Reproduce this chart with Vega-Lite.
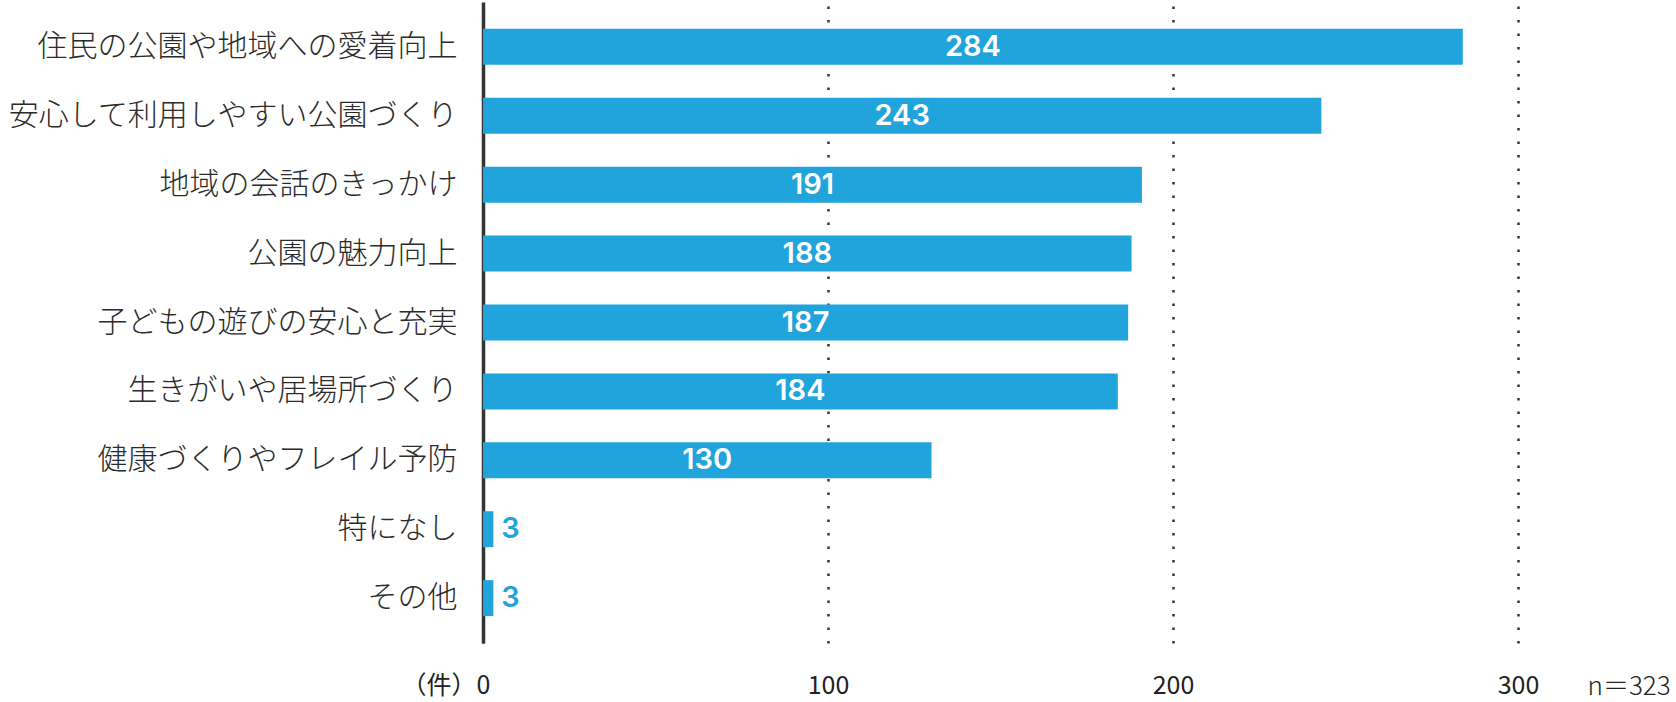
{
  "$schema": "https://vega.github.io/schema/vega-lite/v6.json",
  "autosize": {"type": "none"},
  "width": 1035,
  "height": 641,
  "padding": {"left": 483, "top": 2, "right": 158, "bottom": 59},
  "background": "white",
  "config": {"view": {"stroke": null}, "font": "Noto Sans CJK JP"},
  "data": {
    "values": [
      {"item": "住民の公園や地域への愛着向上", "count": 284},
      {"item": "安心して利用しやすい公園づくり", "count": 243},
      {"item": "地域の会話のきっかけ", "count": 191},
      {"item": "公園の魅力向上", "count": 188},
      {"item": "子どもの遊びの安心と充実", "count": 187},
      {"item": "生きがいや居場所づくり", "count": 184},
      {"item": "健康づくりやフレイル予防", "count": 130},
      {"item": "特になし", "count": 3},
      {"item": "その他", "count": 3}
    ]
  },
  "resolve": {"scale": {"x": "independent"}, "axis": {"x": "independent"}},
  "layer": [
    {
      "mark": {"type": "bar", "color": "#21a4dc"},
      "encoding": {
        "y": {
          "field": "item", "type": "nominal", "sort": null,
          "scale": {"paddingInner": 0.478, "paddingOuter": 0.39},
          "axis": {
            "title": null, "domain": true, "domainColor": "#333333", "domainWidth": 3.5,
            "ticks": false, "labelFontSize": 30, "labelFontWeight": 300, "labelPadding": 26, "labelColor": "#2b2b2b",
            "labelLimit": 0, "labelFont": "Noto Sans CJK JP"
          }
        },
        "x": {
          "field": "count", "type": "quantitative",
          "scale": {"domain": [0, 300], "nice": false},
          "axis": {
            "values": [0, 100, 200, 300],
            "grid": true, "gridDash": [2.5, 11], "gridWidth": 2.5, "gridColor": "#333333",
            "domain": false, "ticks": false,
            "labelFontSize": 25, "labelFontWeight": 400, "labelPadding": 30, "labelColor": "#222222", "labelFont": "Noto Sans CJK JP",
            "labelFlush": false,
            "labelExpr": "datum.value === 0 ? '（件）0' : datum.label",
            "labelAlign": {"condition": {"test": "datum.value === 0", "value": "right"}, "value": "center"},
            "labelOffset": {"condition": {"test": "datum.value === 0", "value": 7}, "value": 0},
            "title": "n＝323", "titleX": 1104, "titleY": 30, "titleAlign": "left", "titleBaseline": "top",
            "titleFontSize": 26, "titleFontWeight": 300, "titleColor": "#222222", "titleFont": "Noto Sans CJK JP"
          }
        }
      }
    },
    {
      "transform": [{"filter": "datum.count >= 10"}],
      "mark": {"type": "text", "color": "white", "font": "Inter", "fontWeight": 600, "fontSize": 29, "align": "center", "baseline": "middle"},
      "encoding": {
        "y": {"field": "item", "type": "nominal", "sort": null},
        "x": {"field": "count", "type": "quantitative", "scale": {"domain": [0, 600], "nice": false}, "axis": null},
        "text": {"field": "count", "type": "quantitative"}
      }
    },
    {
      "transform": [{"filter": "datum.count < 10"}],
      "mark": {"type": "text", "color": "#21a4dc", "font": "Inter", "fontWeight": 600, "fontSize": 29, "align": "left", "baseline": "middle", "dx": 8},
      "encoding": {
        "y": {"field": "item", "type": "nominal", "sort": null},
        "x": {"field": "count", "type": "quantitative", "scale": {"domain": [0, 300], "nice": false}, "axis": null},
        "text": {"field": "count", "type": "quantitative"}
      }
    }
  ]
}
